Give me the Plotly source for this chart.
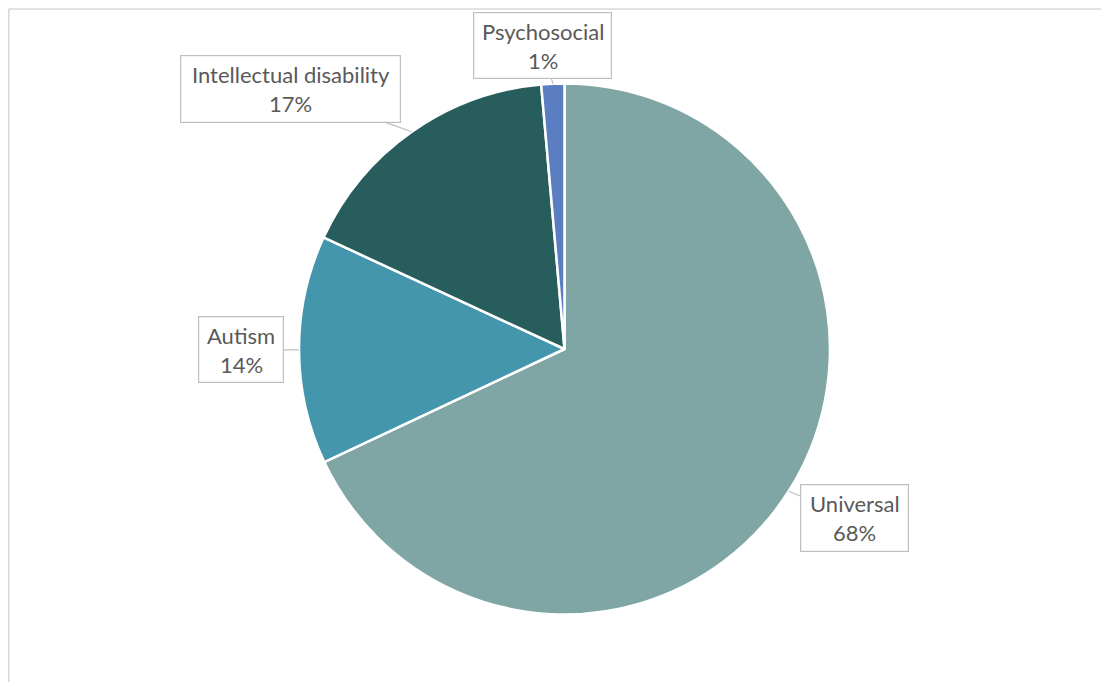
import math
import plotly.graph_objects as go

# ---- data ----
categories = ["Universal", "Autism", "Intellectual disability", "Psychosocial"]
values = [68.0, 13.9, 16.7, 1.4]
colors = ["#7FA6A4", "#4496AD", "#275D5C", "#5B7EC2"]

W, H = 1109, 682
OFF = 8  # page body margin
# pie geometry (pixels, in page coordinates, converted to paper below)
cx_px, cy_px, r_px = 564.5 - OFF, 349.0 - OFF, 265.5

# label box offsets (pixels, box centre relative to slice tip) and box sizes
box_offsets = {
    "Universal": (66, 27, 109, 68),
    "Autism": (-58, 0, 86, 67),
    "Intellectual disability": (-121, -43, 221, 68),
    "Psychosocial": (-10, -38, 139, 67),
}

fig = go.Figure()
fig.add_trace(go.Pie(
    labels=categories,
    values=values,
    sort=False,
    direction="clockwise",
    rotation=0,
    marker=dict(colors=colors, line=dict(color="white", width=2.5)),
    textinfo="none",
    hoverinfo="label+percent",
    showlegend=False,
    domain=dict(
        x=[(cx_px - r_px) / W, (cx_px + r_px) / W],
        y=[1 - (cy_px + r_px) / H, 1 - (cy_px - r_px) / H],
    ),
))

total = sum(values)
annotations = []
cum = 0.0
font_main = dict(family="Lato, Carlito, Calibri, sans-serif", size=22, color="#595959")
for cat, v in zip(categories, values):
    mid = (cum + v / 2) / total * 2 * math.pi
    cum += v
    tip_x = cx_px + r_px * math.sin(mid)
    tip_y = cy_px - r_px * math.cos(mid)
    px, py = tip_x / W, 1 - tip_y / H
    ax, ay, bw, bh = box_offsets[cat]
    # box + pointer
    annotations.append(dict(
        x=px, y=py, xref="paper", yref="paper",
        text=" ", showarrow=True, arrowhead=0, arrowwidth=1.2,
        arrowcolor="#BFBFBF", ax=ax, ay=ay, axref="pixel", ayref="pixel",
        width=bw - 2, height=bh - 2, bgcolor="white",
        bordercolor="#BFBFBF", borderwidth=1.2, borderpad=0,
        font=dict(size=10),
    ))
    pct = round(v / total * 100)
    for txt, dy in ((cat, -14.5), (f"{pct}%", 14.5)):
        annotations.append(dict(
            x=px, y=py, xref="paper", yref="paper",
            text=txt, showarrow=False,
            xshift=ax, yshift=-(ay + dy),
            xanchor="center", yanchor="middle",
            font=font_main,
        ))

fig.update_layout(
    width=W, height=H,
    margin=dict(l=0, r=0, t=0, b=0),
    paper_bgcolor="white",
    plot_bgcolor="white",
    annotations=annotations,
    shapes=[
        dict(type="line", xref="paper", yref="paper",
             x0=0.8 / W, x1=0.8 / W, y0=-0.1, y1=1 - 1 / H,
             line=dict(color="#D9D9D9", width=1.5)),
        dict(type="line", xref="paper", yref="paper",
             x0=0.8 / W, x1=1.1, y0=1 - 1 / H, y1=1 - 1 / H,
             line=dict(color="#D9D9D9", width=1.5)),
    ],
)

fig.write_html("out.html")
